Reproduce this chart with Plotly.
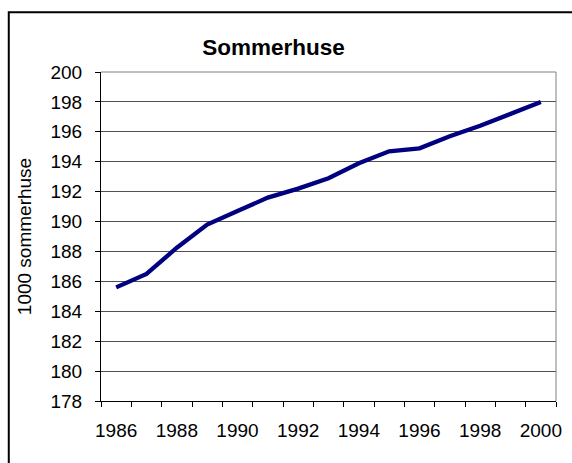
import plotly.graph_objects as go

years = list(range(1986, 2001))
values = [185.6, 186.5, 188.25, 189.8, 190.7, 191.6, 192.2, 192.9, 193.9, 194.7, 194.9, 195.7, 196.4, 197.2, 198.0]
x_tick_vals = [1986, 1988, 1990, 1992, 1994, 1996, 1998, 2000]
x_tick_text = [str(v) for v in x_tick_vals]
x_boundaries = [y - 0.5 for y in years] + [years[-1] + 0.5]

FONT = "Liberation Sans, Arial, sans-serif"

fig = go.Figure()
fig.add_trace(go.Scatter(
    x=years, y=values, mode="lines",
    line=dict(color="#000080", width=4.3),
    showlegend=False, hoverinfo="skip",
))

fig.update_layout(
    width=572, height=463,
    margin=dict(l=101, r=10.5, t=71.5, b=61.5),
    paper_bgcolor="white", plot_bgcolor="white",
    font=dict(family=FONT, size=19, color="black"),
    title=dict(text="<b>Sommerhuse</b>", x=0.478, xanchor="center",
               y=1 - 47 / 463, yanchor="middle",
               font=dict(family=FONT, size=22.5, color="black")),
    xaxis=dict(
        range=[1985.5, 2000.5], tickmode="array",
        tickvals=x_tick_vals, ticktext=x_tick_text,
        ticks="outside", ticklen=12, tickcolor="rgba(0,0,0,0)",
        showline=True, linecolor="black", linewidth=1,
        showgrid=False, zeroline=False,
        minor=dict(tickmode="array", tickvals=x_boundaries, ticks="outside",
                   ticklen=5, tickcolor="black", tickwidth=1, showgrid=False),
        tickfont=dict(size=19),
    ),
    yaxis=dict(
        range=[178, 200], dtick=2, tick0=178,
        ticks="outside", ticklen=5, tickcolor="black",
        ticklabelstandoff=9,
        showline=True, linecolor="black", linewidth=1,
        showgrid=True, gridcolor="#505050", gridwidth=1,
        zeroline=False,
        title=dict(text="1000 sommerhuse", font=dict(size=19), standoff=13),
        tickfont=dict(size=19),
    ),
    shapes=[
        dict(type="line", xref="paper", yref="paper", x0=0, x1=1, y0=1, y1=1,
             line=dict(color="#808080", width=1)),
        dict(type="line", xref="paper", yref="paper", x0=1, x1=1, y0=0, y1=1,
             line=dict(color="#808080", width=1)),
        dict(type="rect", xref="paper", yref="paper",
             x0=-0.2027, x1=1.04, y0=-0.22, y1=1.1818,
             line=dict(color="black", width=2), fillcolor="rgba(0,0,0,0)"),
    ],
)

fig.write_html(
    "out.html",
    config={"displayModeBar": False},
    post_script="document.body.style.margin='0';document.body.style.padding='0';"
                "document.body.style.overflow='hidden';"
                "document.documentElement.style.overflow='hidden';",
)
